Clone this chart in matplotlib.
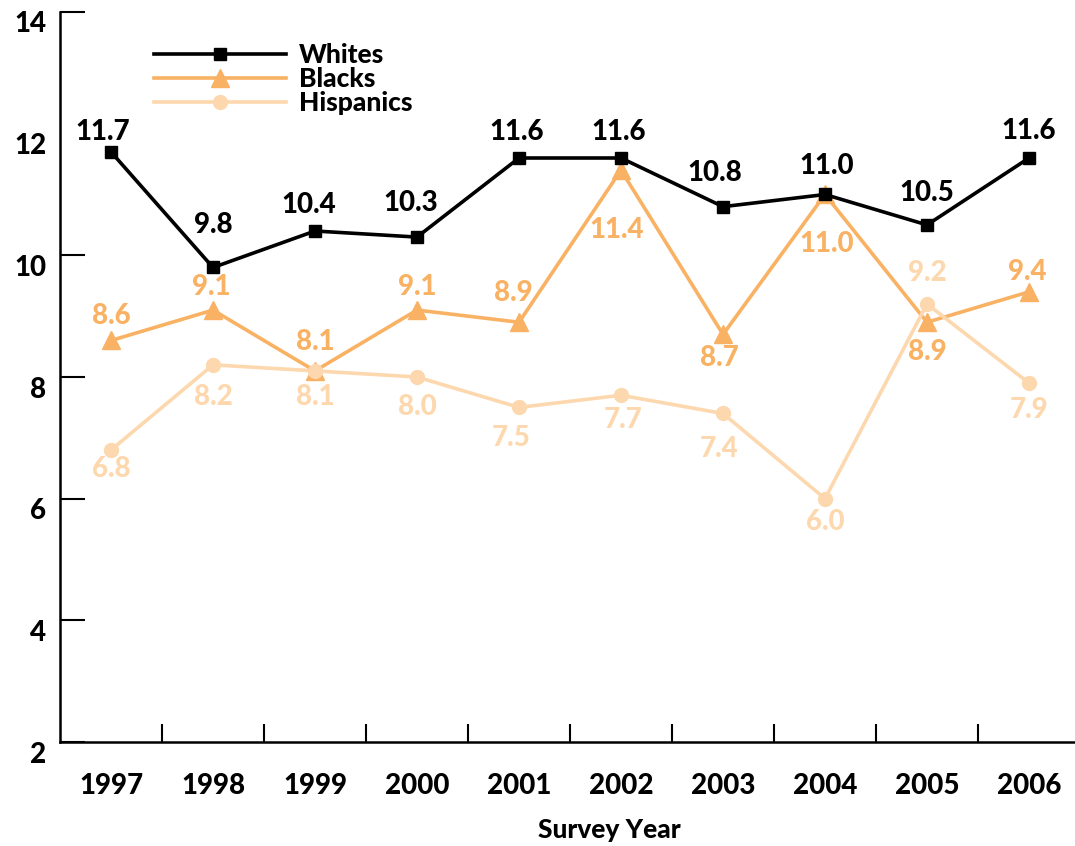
import matplotlib
matplotlib.use("Agg")
import matplotlib.pyplot as plt
import matplotlib.transforms as mtransforms

years = ["1997", "1998", "1999", "2000", "2001", "2002", "2003", "2004", "2005", "2006"]
whites = [11.7, 9.8, 10.4, 10.3, 11.6, 11.6, 10.8, 11.0, 10.5, 11.6]
blacks = [8.6, 9.1, 8.1, 9.1, 8.9, 11.4, 8.7, 11.0, 8.9, 9.4]
hispanics = [6.8, 8.2, 8.1, 8.0, 7.5, 7.7, 7.4, 6.0, 9.2, 7.9]

# label offsets in pixels (dx, dy), dy positive = up
whites_lab = [(-8, 20), (0, 42), (-6, 26), (-6, 34), (-2, 26), (-2, 26), (-8, 34), (2, 28), (0, 32), (0, 27)]
blacks_lab = [(0, 25), (-2, 23), (0, 29), (0, 23), (-6, 29), (-4, -60), (-4, -24), (2, -50), (0, -30), (-2, 20)]
hisp_lab = [(0, -19), (0, -32), (0, -26), (0, -30), (-8, -31), (2, -25), (-4, -35), (0, -23), (0, 31), (0, -27)]

BLACK = "#000000"
ORANGE = "#F9B264"
PEACH = "#FDD8AE"
W = "black"

plt.rcParams["font.family"] = ["Lato", "DejaVu Sans"]
plt.rcParams["font.weight"] = W

fig = plt.figure(figsize=(10.75, 8.46), dpi=100)
ax = fig.add_axes([60 / 1075, 104 / 846, 1020 / 1075, 730 / 846])
x = list(range(len(years)))

ax.plot(x, hispanics, color=PEACH, lw=2.6, marker="o", ms=10, label="Hispanics", zorder=3)
ax.plot(x, blacks, color=ORANGE, lw=2.6, marker="^", ms=13, label="Blacks", zorder=2)
ax.plot(x, whites, color=BLACK, lw=2.6, marker="s", ms=9, label="Whites", zorder=4)

for vals, offs, col in [(whites, whites_lab, BLACK), (blacks, blacks_lab, ORANGE),
                        (hispanics, hisp_lab, PEACH)]:
    for i, (v, (dx, dy)) in enumerate(zip(vals, offs)):
        ax.annotate(f"{v:.1f}", (i, v), xytext=(dx, dy), textcoords="offset pixels",
                    ha="center", va="center", fontsize=20, fontweight=W, color=col,
                    zorder=5)

ax.set_xlim(-0.5, 9.5)
ax.set_ylim(2, 14)
for s in ["top", "right"]:
    ax.spines[s].set_visible(False)
for s in ["left", "bottom"]:
    ax.spines[s].set_linewidth(1.8)

ax.set_xticks(x)
ax.set_xticklabels(years, fontsize=20, fontweight=W)
ax.set_xticks([i + 0.5 for i in range(len(years) - 1)], minor=True)
ax.tick_params(axis="x", which="major", length=0, pad=22)
ax.tick_params(axis="x", which="minor", direction="in", length=13, width=1.5)

ax.set_yticks([2, 4, 6, 8, 10, 12, 14])
ax.set_yticklabels(["2", "4", "6", "8", "10", "12", "14"], fontsize=20, fontweight=W)
ax.tick_params(axis="y", direction="in", length=18, width=1.5, pad=10)
shift = mtransforms.ScaledTranslation(0, -10 / 100, fig.dpi_scale_trans)
for lab in ax.get_yticklabels():
    lab.set_transform(lab.get_transform() + shift)
ax.yaxis.get_major_ticks()[5].tick1line.set_visible(False)

ax.set_xlabel("Survey Year", fontsize=19, fontweight=W)
ax.xaxis.set_label_coords(0.539, -0.1205)
ax.xaxis.label.set_va("center")

handles, labels = ax.get_legend_handles_labels()
order = [2, 1, 0]
ax.legend([handles[i] for i in order], [labels[i] for i in order], loc="upper left",
          bbox_to_anchor=(0.079, 0.975), frameon=False, fontsize=19, handlelength=5.0,
          labelspacing=0.0, handletextpad=0.5, borderpad=0)

fig.savefig("out.png", dpi=100)
